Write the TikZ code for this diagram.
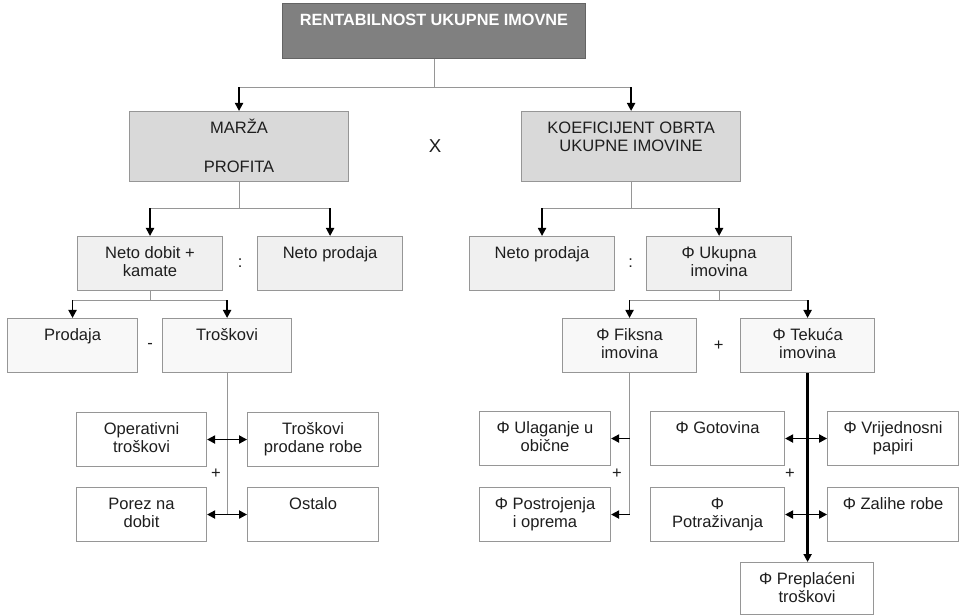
\documentclass[tikz,border=0pt]{standalone}
\usepackage{fontspec}
\setmainfont{Liberation Sans}
\usepackage{xcolor}
\usepackage{tikz}
\usetikzlibrary{arrows.meta, positioning, calc}
\definecolor{topgray}{RGB}{128, 128, 128}
\definecolor{topedge}{RGB}{100, 100, 100}
\definecolor{midgray}{RGB}{217, 217, 217}
\definecolor{lightgray}{RGB}{240, 240, 240}
\definecolor{palegray}{RGB}{248, 248, 248}
\definecolor{linegray}{RGB}{150, 150, 150}
\definecolor{textgray}{RGB}{30, 30, 30}

\begin{document}
\begin{tikzpicture}[
  x=0.75pt, y=-0.75pt,
  font=\fontsize{12.4}{13.5}\selectfont, text=textgray,
  box/.style={draw=linegray, line width=0.8pt, fill=white, align=center,
    inner xsep=2pt, inner ysep=0pt, text height=16.5pt, text depth=24pt,
    minimum width=98.25pt, anchor=north west},
  twoline/.style={text height=30pt, text depth=10.5pt},
  topbox/.style={box, fill=topgray, draw=topedge, text=white, font=\fontsize{12.2}{13.5}\selectfont\bfseries,
    minimum width=227.25pt, text depth=24.75pt},
  bigbox/.style={box, fill=midgray, minimum width=164.25pt},
  netbox/.style={box, fill=lightgray, minimum width=108.75pt},
  palebox/.style={box, fill=palegray},
  conn/.style={draw=linegray, line width=0.8pt},
  arrow/.style={-{Triangle[length=6pt, width=6pt]}, line width=1.4pt},
  dblarrow/.style={{Triangle[length=6pt, width=6pt]}-{Triangle[length=6pt, width=6pt]}, line width=1.4pt},
  op/.style={inner sep=0pt}
]
\useasboundingbox (0,0) rectangle (959,616);

% Top
\node[topbox] (top) at (282,3) {RENTABILNOST UKUPNE IMOVNE};

% Second level
\node[bigbox, text height=45.5pt, text depth=7pt] (marza) at (129,111) {MARŽA\\[15.5pt]PROFITA};
\node[bigbox, text height=30pt, text depth=22.5pt, right=129pt of marza] (koef) {KOEFICIJENT OBRTA\\UKUPNE IMOVINE};
\node[op, font=\fontsize{14}{16}\selectfont] (puta) at ($(marza.east)!.5!(koef.west)$) {X};

% Third level
\node[netbox, twoline] (netodob) at (77,236) {Neto dobit +\\kamate};
\node[netbox, right=25.5pt of netodob] (netoprod) {Neto prodaja};
\node[netbox] (netoprodb) at (469,236) {Neto prodaja};
\node[netbox, twoline, right=23.25pt of netoprodb] (ukupna) {Φ Ukupna\\imovina};
\node[op] (dijeli) at ($(netodob.east)!.5!(netoprod.west)$) {:};
\node[op] (dijelib) at ($(netoprodb.east)!.5!(ukupna.west)$) {:};

% Fourth level
\node[palebox, minimum width=97.5pt] (prodaja) at (7,318) {Prodaja};
\node[palebox, minimum width=96.75pt, right=18pt of prodaja] (troskovi) {Troškovi};
\node[palebox, twoline, minimum width=100.5pt] (fiksna) at (562,318) {Φ Fiksna\\imovina};
\node[palebox, twoline, minimum width=100.5pt, right=32.25pt of fiksna] (tekuca) {Φ Tekuća\\imovina};
\node[op] (minus) at ($(prodaja.east)!.5!(troskovi.west)$) {-};
\node[op] (plusa) at ($(fiksna.east)!.5!(tekuca.west)$) {+};

% Costs
\node[box, twoline, minimum width=97.5pt] (operativni) at (76,412) {Operativni\\troškovi};
\node[box, twoline, right=30pt of operativni] (prodrobe) {Troškovi\\prodane robe};
\node[box, twoline, minimum width=97.5pt] (porez) at (76,487) {Porez na\\dobit};
\node[box, right=30pt of porez] (ostalo) {Ostalo};
\node[op] (plusb) at (216,474) {+};

% Fixed assets
\node[box, twoline] (ulaganje) at (479,411) {Φ Ulaganje u\\obične};
\node[box, twoline] (postroj) at (479,487) {Φ Postrojenja\\i oprema};
\node[op] (plusc) at (617,474) {+};

% Current assets
\node[box, minimum width=100.5pt] (gotovina) at (650,411) {Φ Gotovina};
\node[box, twoline, right=31.5pt of gotovina] (papiri) {Φ Vrijednosni\\papiri};
\node[box, twoline, minimum width=100.5pt] (potraz) at (650,487) {Φ\\Potraživanja};
\node[box, right=31.5pt of potraz] (zalihe) {Φ Zalihe robe};
\node[box, minimum width=99.75pt, text height=30pt, text depth=9pt] (preplaceni) at (740,562) {Φ Preplaćeni\\troškovi};
\node[op] (plusd) at (790,474) {+};

% Connectors
\draw[conn] (top.south) -- ++(0,28) coordinate (jtop);
\draw[conn] (marza.north |- jtop) -- (koef.north |- jtop);
\draw[arrow] (marza.north |- jtop) -- (marza.north);
\draw[arrow] (koef.north |- jtop) -- (koef.north);

\draw[conn] (marza.south) -- ++(0,26) coordinate (jmarza);
\draw[conn] (netodob.north |- jmarza) -- (netoprod.north |- jmarza);
\draw[arrow] (netodob.north |- jmarza) -- (netodob.north);
\draw[arrow] (netoprod.north |- jmarza) -- (netoprod.north);

\draw[conn] (koef.south) -- ++(0,26) coordinate (jkoef);
\draw[conn] (netoprodb.north |- jkoef) -- (ukupna.north |- jkoef);
\draw[arrow] (netoprodb.north |- jkoef) -- (netoprodb.north);
\draw[arrow] (ukupna.north |- jkoef) -- (ukupna.north);

\draw[conn] (netodob.south) -- ++(0,9) coordinate (jnetodob);
\draw[conn] (prodaja.north |- jnetodob) -- (troskovi.north |- jnetodob);
\draw[arrow] (prodaja.north |- jnetodob) -- (prodaja.north);
\draw[arrow] (troskovi.north |- jnetodob) -- (troskovi.north);

\draw[conn] (ukupna.south) -- ++(0,9) coordinate (jukupna);
\draw[conn] (fiksna.north |- jukupna) -- (tekuca.north |- jukupna);
\draw[arrow] (fiksna.north |- jukupna) -- (fiksna.north);
\draw[arrow] (tekuca.north |- jukupna) -- (tekuca.north);

\draw[conn] (troskovi.south) -- (troskovi.south |- porez.east);
\draw[dblarrow] (operativni.east) -- (prodrobe.west);
\draw[dblarrow] (porez.east) -- (ostalo.west);

\draw[conn] (fiksna.south) -- (fiksna.south |- postroj.east);
\draw[arrow] (fiksna.south |- ulaganje.east) -- (ulaganje.east);
\draw[arrow] (fiksna.south |- postroj.east) -- (postroj.east);

\draw[arrow, line width=1.7pt] (tekuca.south) -- (tekuca.south |- preplaceni.north);
\draw[dblarrow] (gotovina.east) -- (papiri.west);
\draw[dblarrow] (potraz.east) -- (zalihe.west);

\end{tikzpicture}
\end{document}
